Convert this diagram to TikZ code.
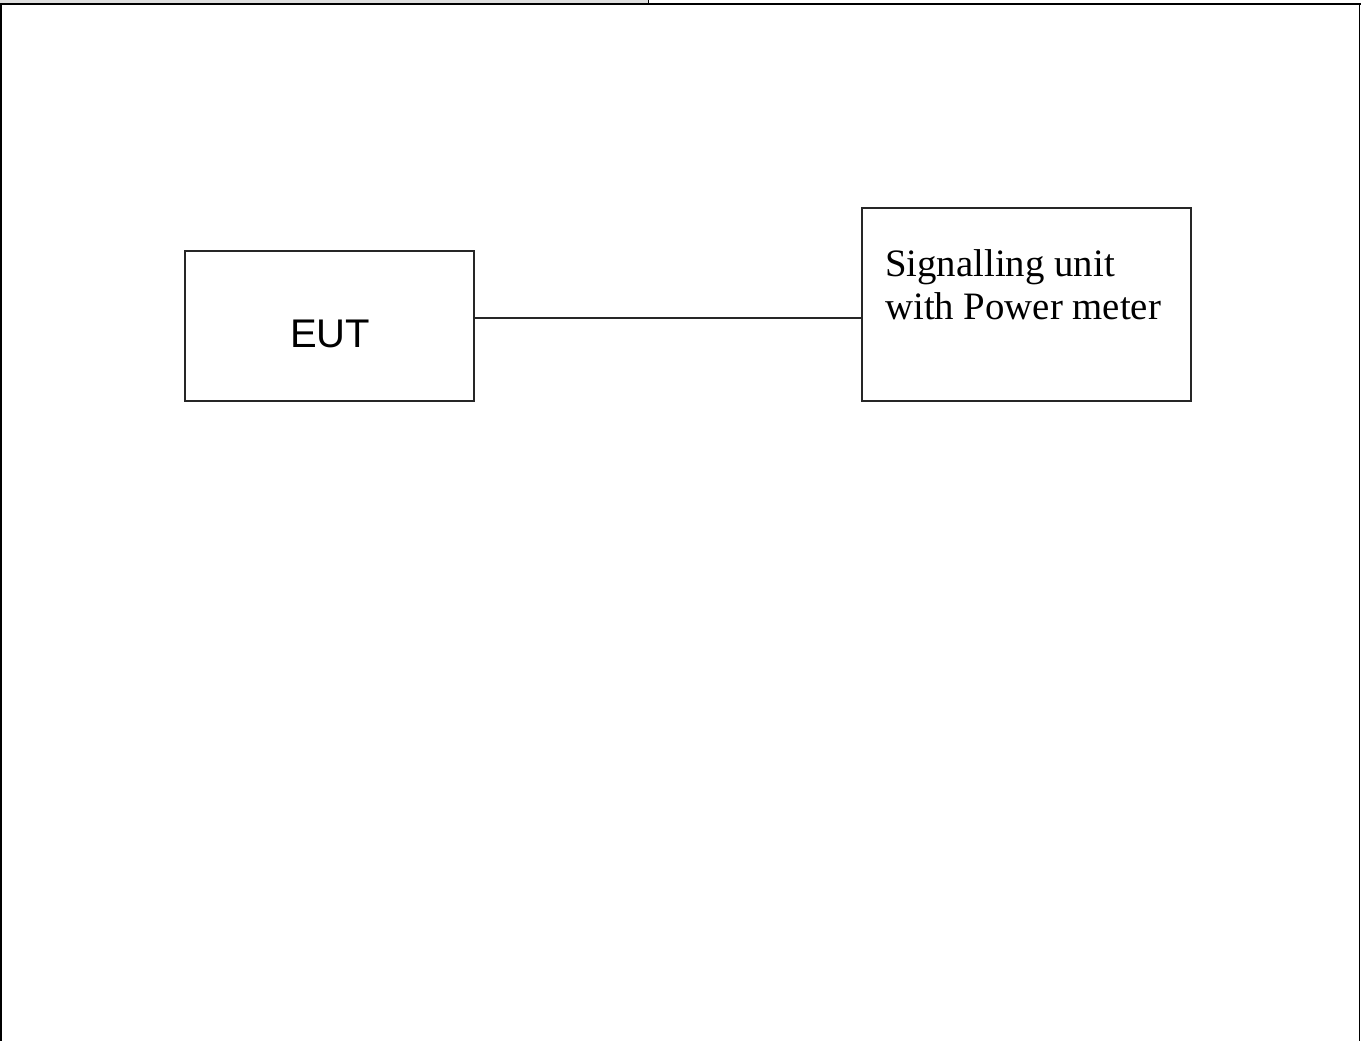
\documentclass[tikz,border=0pt]{standalone}
\usepackage{fontspec}
\setmainfont{Liberation Serif}
\newfontfamily\arialfont{Liberation Sans}
\begin{document}
\begin{tikzpicture}[x=1pt,y=-1pt,
  box/.style={draw=black!85,line width=2pt,inner sep=0pt},
  conn/.style={draw=black!85,line width=2pt},
  frame/.style={draw=black,line width=1.6pt},
  serifl/.style={anchor=base west,inner sep=0pt,font=\fontsize{38.8}{43}\selectfont}]
\useasboundingbox (0,0) rectangle (1361,1041);
% page frame fragments
\fill[black!13] (0,0) rectangle (648,3);
\draw[frame] (648.5,0) -- (648.5,4);
\draw[frame] (0,4) -- (1361,4);
\draw[frame] (1,4) -- (1,1041);
\draw[frame] (1359.5,4) -- (1359.5,1041);
% boxes
\node[box,minimum width=289pt,minimum height=150pt] (eut) at (329.5,326) {};
\node[inner sep=0pt,font=\arialfont\fontsize{40}{46}\selectfont] (euttxt) at (330,334) {EUT};
\node[box,minimum width=329pt,minimum height=193pt] (sig) at (1026.5,304.5) {};
\node[serifl] (sigA) at (885,276) {Signalling unit};
\node[serifl] (sigB) at (885,319) {with Power meter};
% connector
\draw[conn] (eut.east |- 0,318) -- (sig.west |- 0,318);
\end{tikzpicture}
\end{document}
